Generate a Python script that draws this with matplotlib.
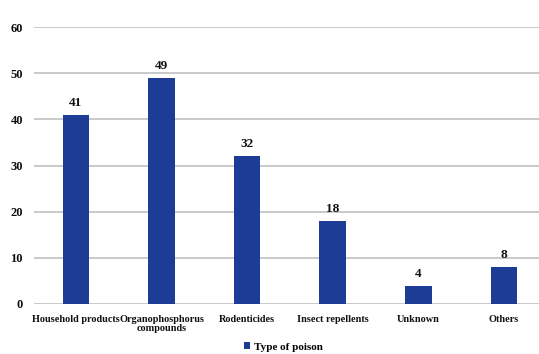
import matplotlib
matplotlib.use("Agg")
import matplotlib.pyplot as plt
from matplotlib.patches import Patch

categories = ["Household products", "Organophosphorus\ncompounds", "Rodenticides",
              "Insect repellents", "Unknown", "Others"]
values = [41, 49, 32, 18, 4, 8]
yticks = [0, 10, 20, 30, 40, 50, 60]
series_name = "Type of poison"

bar_color = "#1c3c96"
font = {"family": "Liberation Serif", "weight": "bold"}

fig = plt.figure(figsize=(5.39, 3.54), dpi=100)
ax = fig.add_axes([34 / 539, 1 - 304 / 354, 505 / 539, (304 - 27) / 354])

x = list(range(len(categories)))
bars = ax.bar(x, values, width=0.31, color=bar_color, zorder=3)
for xi, v in zip(x, values):
    ax.text(xi, v + 1.3, str(v), ha="center", va="bottom", fontsize=9.5, color="#111111", **font)

ax.set_ylim(0, 60)
ax.set_xlim(-0.49, 5.41)
ax.set_yticks(yticks)
ax.set_yticklabels([str(t) for t in yticks], fontsize=9, color="#111111", **font)
ax.set_xticks(x)
ax.set_xticklabels(categories, fontsize=7.4, color="#111111", linespacing=0.95, **font)
ax.tick_params(axis="both", length=0)
ax.tick_params(axis="x", pad=8)
ax.tick_params(axis="y", pad=8)
ax.grid(axis="y", color="#c9c9c9", linewidth=1.4, zorder=0)
for s in ax.spines.values():
    s.set_visible(False)

handles = [Patch(facecolor=bar_color, label=series_name)]
fig.legend(handles=handles, loc="center", bbox_to_anchor=(283 / 539, 1 - 347 / 354),
           frameon=False, handlelength=0.6, handleheight=0.6, handletextpad=0.3,
           prop={"family": "Liberation Serif", "weight": "bold", "size": 8})

fig.savefig("out.png", dpi=100)
